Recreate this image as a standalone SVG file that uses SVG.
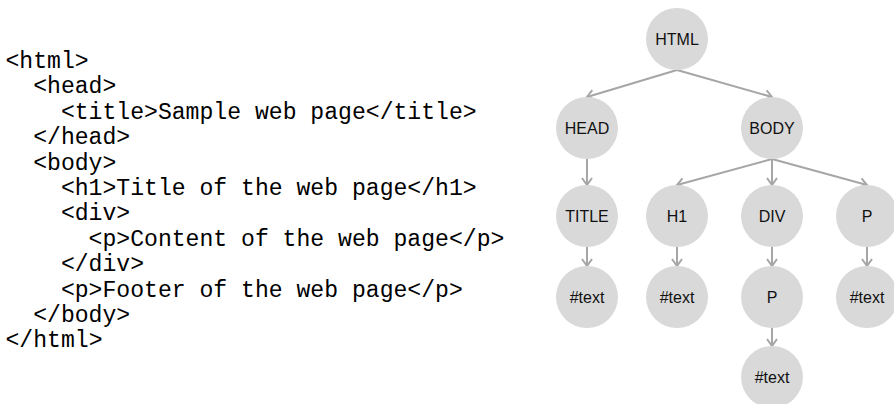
<svg xmlns="http://www.w3.org/2000/svg" width="894" height="404" viewBox="0 0 894 404">
<style>
.code{font-family:"Liberation Mono","DejaVu Sans Mono",monospace;font-size:23.1px;fill:#000}
.node circle{fill:#d9d9d9}
.node text{font-family:"Liberation Sans",Arial,sans-serif;font-size:16px;fill:#111;text-anchor:middle;dominant-baseline:central}
.edge{stroke:#a6a6a6;stroke-width:2;fill:none;marker-end:url(#arr)}
</style>
<defs>
<marker id="arr" markerUnits="userSpaceOnUse" markerWidth="12" markerHeight="14" refX="9" refY="7" orient="auto" viewBox="0 0 12 14">
<path d="M2,2 L9,7 L2,12" fill="none" stroke="#a6a6a6" stroke-width="2"/>
</marker>
</defs>
<rect width="894" height="404" fill="#fff"/>
<g id="code">
<text class="code" x="5.5" y="68">&lt;html&gt;</text>
<text class="code" x="33.2" y="93.4">&lt;head&gt;</text>
<text class="code" x="60.9" y="118.8">&lt;title&gt;Sample web page&lt;/title&gt;</text>
<text class="code" x="33.2" y="144.2">&lt;/head&gt;</text>
<text class="code" x="33.2" y="169.6">&lt;body&gt;</text>
<text class="code" x="60.9" y="195">&lt;h1&gt;Title of the web page&lt;/h1&gt;</text>
<text class="code" x="60.9" y="220.4">&lt;div&gt;</text>
<text class="code" x="88.6" y="245.8">&lt;p&gt;Content of the web page&lt;/p&gt;</text>
<text class="code" x="60.9" y="271.2">&lt;/div&gt;</text>
<text class="code" x="60.9" y="296.6">&lt;p&gt;Footer of the web page&lt;/p&gt;</text>
<text class="code" x="33.2" y="322">&lt;/body&gt;</text>
<text class="code" x="5.5" y="347.4">&lt;/html&gt;</text>
</g>
<g id="connectors">
<line class="edge" x1="677" y1="70" x2="587" y2="97"/>
<line class="edge" x1="677" y1="70" x2="772" y2="97"/>
<line class="edge" x1="587" y1="159" x2="587" y2="185"/>
<line class="edge" x1="772" y1="159" x2="677" y2="185"/>
<line class="edge" x1="772" y1="159" x2="772" y2="185"/>
<line class="edge" x1="772" y1="159" x2="867" y2="185"/>
<line class="edge" x1="587" y1="247" x2="587" y2="266"/>
<line class="edge" x1="677" y1="247" x2="677" y2="266"/>
<line class="edge" x1="772" y1="247" x2="772" y2="266"/>
<line class="edge" x1="867" y1="247" x2="867" y2="266"/>
<line class="edge" x1="772" y1="328" x2="772" y2="346"/>
</g>
<g id="n-html" class="node"><circle cx="677" cy="39" r="31"/><text x="677" y="39">HTML</text></g>
<g id="n-head" class="node"><circle cx="587" cy="128" r="31"/><text x="587" y="128">HEAD</text></g>
<g id="n-body" class="node"><circle cx="772" cy="128" r="31"/><text x="772" y="128">BODY</text></g>
<g id="n-title" class="node"><circle cx="587" cy="216" r="31"/><text x="587" y="216">TITLE</text></g>
<g id="n-h1" class="node"><circle cx="677" cy="216" r="31"/><text x="677" y="216">H1</text></g>
<g id="n-div" class="node"><circle cx="772" cy="216" r="31"/><text x="772" y="216">DIV</text></g>
<g id="n-p1" class="node"><circle cx="867" cy="216" r="31"/><text x="867" y="216">P</text></g>
<g id="n-text1" class="node"><circle cx="587" cy="297" r="31"/><text x="587" y="297">#text</text></g>
<g id="n-text2" class="node"><circle cx="677" cy="297" r="31"/><text x="677" y="297">#text</text></g>
<g id="n-p2" class="node"><circle cx="772" cy="297" r="31"/><text x="772" y="297">P</text></g>
<g id="n-text3" class="node"><circle cx="867" cy="297" r="31"/><text x="867" y="297">#text</text></g>
<g id="n-text4" class="node"><circle cx="772" cy="377" r="31"/><text x="772" y="377">#text</text></g>
</svg>
